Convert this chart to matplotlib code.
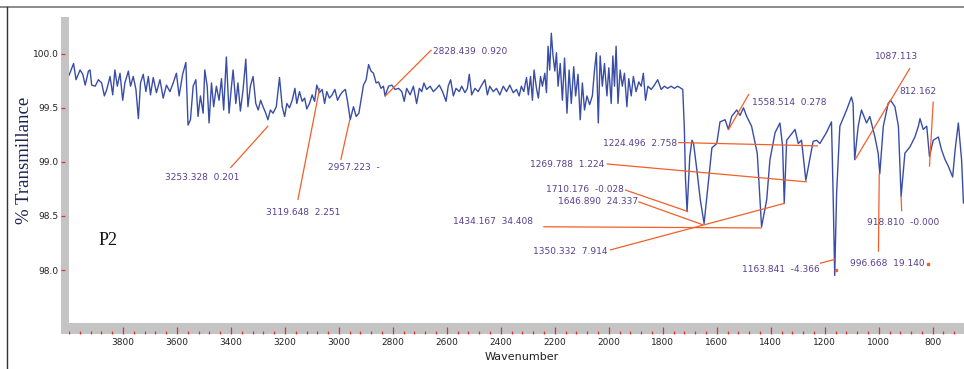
import matplotlib
matplotlib.use("Agg")
import matplotlib.pyplot as plt
from matplotlib import font_manager
from matplotlib.lines import Line2D
from matplotlib.patches import Rectangle
from matplotlib.ticker import MultipleLocator

# Espectro FTIR de la muestra P2
numero_onda = [
    4000, 3983, 3974, 3959, 3949, 3940, 3928, 3922, 3916, 3903, 3891, 3879, 3869, 3860,
    3848, 3838, 3830, 3821, 3811, 3801, 3793, 3780, 3772, 3762, 3752, 3743, 3735, 3725,
    3715, 3706, 3698, 3688, 3676, 3663, 3651, 3639, 3626, 3614, 3602, 3592, 3579, 3567,
    3559, 3550, 3540, 3530, 3522, 3513, 3503, 3497, 3488, 3481, 3472, 3464, 3454, 3444,
    3435, 3427, 3417, 3407, 3398, 3392, 3382, 3374, 3365, 3355, 3345, 3337, 3328, 3318,
    3308, 3299, 3290, 3281, 3271, 3263, 3254, 3244, 3232, 3220, 3210, 3201, 3193, 3183,
    3173, 3163, 3156, 3146, 3136, 3127, 3119, 3109, 3099, 3090, 3082, 3072, 3062, 3053,
    3045, 3035, 3025, 3015, 3005, 2995, 2986, 2976, 2968, 2958, 2952, 2946, 2936, 2926,
    2918, 2909, 2899, 2890, 2881, 2872, 2862, 2853, 2844, 2835, 2829, 2816, 2804, 2792,
    2779, 2767, 2758, 2749, 2736, 2724, 2712, 2702, 2693, 2685, 2675, 2662, 2650, 2638,
    2628, 2616, 2603, 2595, 2586, 2576, 2566, 2554, 2545, 2533, 2524, 2517, 2508, 2496,
    2484, 2471, 2459, 2450, 2441, 2428, 2416, 2404, 2391, 2379, 2367, 2354, 2342, 2332,
    2324, 2315, 2305, 2298, 2290, 2283, 2277, 2268, 2261, 2253, 2246, 2237, 2231, 2225,
    2219, 2213, 2207, 2200, 2194, 2188, 2180, 2172, 2164, 2155, 2147, 2139, 2130, 2123,
    2114, 2106, 2098, 2090, 2081, 2071, 2061, 2053, 2046, 2039, 2032, 2024, 2016, 2007,
    2000, 1991, 1985, 1979, 1973, 1966, 1958, 1950, 1942, 1933, 1926, 1917, 1909, 1899,
    1889, 1880, 1872, 1864, 1855, 1843, 1831, 1819, 1806, 1794, 1782, 1769, 1757, 1745,
    1732, 1726, 1720, 1716, 1710, 1700, 1692, 1686, 1674, 1661, 1647, 1618, 1600, 1588,
    1569, 1557, 1545, 1526, 1514, 1501, 1489, 1471, 1450, 1434, 1415, 1403, 1384, 1366,
    1356, 1350, 1341, 1310, 1298, 1286, 1270, 1243, 1230, 1218, 1194, 1175, 1169, 1163,
    1156, 1144, 1119, 1101, 1095, 1089, 1076, 1064, 1045, 1033, 1014, 1002, 996, 983,
    965, 956, 940, 927, 917, 903, 884, 866, 853, 847, 835, 822, 812, 798, 779, 767,
    754, 742, 726, 717, 705, 693, 686,
]
transmitancia = [
    99.80, 99.91, 99.76, 99.85, 99.81, 99.71, 99.84, 99.85, 99.71, 99.70, 99.76, 99.73, 99.61, 99.67,
    99.79, 99.62, 99.85, 99.70, 99.82, 99.57, 99.73, 99.84, 99.70, 99.79, 99.67, 99.40, 99.73, 99.81,
    99.65, 99.79, 99.62, 99.78, 99.64, 99.76, 99.59, 99.71, 99.65, 99.73, 99.82, 99.61, 99.81, 99.92,
    99.34, 99.39, 99.70, 99.76, 99.42, 99.61, 99.45, 99.85, 99.70, 99.36, 99.73, 99.51, 99.70, 99.57,
    99.77, 99.48, 99.97, 99.45, 99.70, 99.85, 99.54, 99.73, 99.47, 99.67, 99.95, 99.51, 99.70, 99.79,
    99.54, 99.48, 99.57, 99.51, 99.45, 99.39, 99.48, 99.45, 99.51, 99.78, 99.51, 99.42, 99.54, 99.50,
    99.57, 99.68, 99.54, 99.65, 99.56, 99.59, 99.49, 99.54, 99.62, 99.56, 99.71, 99.64, 99.67, 99.54,
    99.65, 99.59, 99.62, 99.67, 99.57, 99.62, 99.65, 99.67, 99.56, 99.39, 99.45, 99.51, 99.42, 99.45,
    99.57, 99.71, 99.76, 99.90, 99.84, 99.82, 99.73, 99.74, 99.68, 99.70, 99.61, 99.70, 99.71, 99.67,
    99.68, 99.65, 99.56, 99.68, 99.62, 99.70, 99.54, 99.68, 99.65, 99.73, 99.67, 99.70, 99.65, 99.68,
    99.71, 99.65, 99.56, 99.70, 99.76, 99.61, 99.68, 99.65, 99.70, 99.64, 99.68, 99.81, 99.62, 99.68,
    99.65, 99.71, 99.76, 99.62, 99.70, 99.65, 99.68, 99.62, 99.70, 99.65, 99.71, 99.64, 99.67, 99.61,
    99.70, 99.65, 99.78, 99.62, 99.79, 99.57, 99.85, 99.68, 99.59, 99.79, 99.70, 99.82, 99.64, 100.07,
    99.85, 100.19, 99.99, 99.84, 100.01, 99.70, 99.91, 99.57, 99.96, 99.45, 99.85, 99.54, 99.88, 99.61,
    99.81, 99.39, 99.73, 99.48, 99.61, 99.53, 99.61, 99.85, 100.01, 99.36, 99.98, 99.70, 99.91, 99.61,
    99.87, 99.54, 99.98, 99.70, 100.07, 99.54, 99.85, 99.70, 99.82, 99.51, 99.77, 99.61, 99.79, 99.65,
    99.74, 99.70, 99.82, 99.57, 99.70, 99.67, 99.71, 99.76, 99.67, 99.70, 99.68, 99.70, 99.68, 99.70,
    99.68, 99.67, 99.30, 98.85, 98.54, 99.05, 99.20, 99.17, 98.93, 98.65, 98.43, 99.13, 99.17, 99.37,
    99.39, 99.30, 99.42, 99.48, 99.43, 99.50, 99.42, 99.33, 99.08, 98.40, 98.65, 99.02, 99.27, 99.36,
    99.14, 98.62, 99.20, 99.30, 99.17, 99.20, 98.83, 99.19, 99.20, 99.17, 99.27, 99.37, 98.71, 97.95,
    98.71, 99.33, 99.48, 99.60, 99.54, 99.02, 99.33, 99.48, 99.36, 99.42, 99.23, 99.08, 98.89, 99.33,
    99.54, 99.57, 99.51, 99.33, 98.68, 99.08, 99.14, 99.23, 99.33, 99.40, 99.30, 99.33, 99.05, 99.20,
    99.23, 99.11, 99.02, 98.96, 98.86, 99.11, 99.36, 99.02, 98.62,
]

# Etiquetas de los picos marcados
etiquetas_picos = [
    "3253.328  0.201", "3119.648  2.251", "2957.223  -", "2828.439  0.920",
    "1558.514  0.278", "1087.113", "812.162", "918.810  -0.000",
    "996.668  19.140", "1163.841  -4.366", "1224.496  2.758", "1269.788  1.224",
    "1710.176  -0.028", "1646.890  24.337", "1434.167  34.408", "1350.332  7.914",
]
# posicion del texto (x, y) y linea guia (x1, y1, x2, y2), en unidades del grafico
pos_texto = [
    (3645, 98.86), (3271, 98.53), (3041, 98.95), (2652, 100.02),
    (1471, 99.55), (1014, 99.975), (925, 99.65), (1044, 98.44),
    (1106, 98.056), (1508, 98.006), (2023, 99.167), (2292, 98.972),
    (2231, 98.741), (2189, 98.632), (2578, 98.447), (2281, 98.169),
]
lineas_guia = [
    (3402, 98.944, 3262, 99.333), (3152, 98.648, 3071, 99.685),
    (2993, 99.019, 2960, 99.389), (2657, 100.037, 2830, 99.605),
    (1481, 99.627, 1557, 99.296), (884, 99.868, 1088, 99.019),
    (798, 99.558, 812, 98.956), (915, 98.542, 917, 98.678),
    (1001, 98.169, 998, 98.894), (1218, 98.062, 1162, 98.099),
    (1743, 99.179, 1225, 99.148), (2008, 98.981, 1266, 98.815),
    (1940, 98.741, 1706, 98.54), (1891, 98.632, 1650, 98.417),
    (2243, 98.40, 1433, 98.389), (1996, 98.185, 1347, 98.618),
]


def hay_fuente(nombre):
    try:
        font_manager.findfont(font_manager.FontProperties(family=nombre), fallback_to_default=False)
        return True
    except Exception:
        return False


if hay_fuente("Liberation Sans Narrow"):
    fuente_chica, tam_chico = "Liberation Sans Narrow", 8.5
else:
    fuente_chica, tam_chico = "DejaVu Sans", 6.5

AZUL = "#3a4da6"
ROJO = "#f0602a"
GRIS = "#c4c4c4"
MORADO = "#55408f"

W, H = 964, 369
fig = plt.figure(figsize=(W / 100, H / 100), dpi=100)
fig.patch.set_facecolor("white")

# area de trazado principal
ax = fig.add_axes([69 / W, 46 / H, 895 / W, 306 / H])
ax.plot(numero_onda, transmitancia, color=AZUL, lw=1.0)
ax.set_xlim(4000, 684)
ax.set_ylim(97.51, 100.34)
ax.axis("off")

# anotaciones de picos
for texto, (tx, ty), (x1, y1, x2, y2) in zip(etiquetas_picos, pos_texto, lineas_guia):
    ax.plot([x1, x2], [y1, y2], color=ROJO, lw=0.9, solid_capstyle="butt")
    ax.text(tx, ty, texto, color=MORADO, fontsize=tam_chico, family=fuente_chica,
            ha="left", va="center")
ax.plot([817, 1159], [98.056, 98.0], ls="none", marker="s", ms=1.5, color=ROJO)

ax.text(0.033, 0.268, "P2", transform=ax.transAxes, family="Liberation Serif",
        fontsize=13, color="#111111", ha="left", va="center")

# barra gris inferior con escala de numero de onda
axb = fig.add_axes([69 / W, 35 / H, 895 / W, 11 / H], sharex=ax)
axb.set_facecolor(GRIS)
for s in axb.spines.values():
    s.set_visible(False)
axb.set_yticks([])
axb.xaxis.set_minor_locator(MultipleLocator(40))
axb.set_xticks(range(800, 3801, 200))
axb.set_xticklabels([str(v) for v in range(800, 3801, 200)], family=fuente_chica)
axb.tick_params(axis="x", which="major", direction="in", length=5, width=0.9, color="#e8302a",
                pad=3, labelsize=tam_chico, labelcolor="#222222")
axb.tick_params(axis="x", which="minor", direction="in", length=2.5, width=0.9, color="#e8302a")
axb.set_xlim(4000, 684)

# barra gris izquierda con escala de transmitancia
axl = fig.add_axes([61 / W, 46 / H, 8 / W, 306 / H], sharey=ax)
axl.set_facecolor(GRIS)
for s in axl.spines.values():
    s.set_visible(False)
axl.set_xticks([])
axl.set_yticks([98.0, 98.5, 99.0, 99.5, 100.0])
axl.set_yticklabels(["98.0", "98.5", "99.0", "99.5", "100.0"], family=fuente_chica)
axl.tick_params(axis="y", direction="in", length=3, width=0.9, color="#e8302a", pad=1.5,
                labelsize=tam_chico, labelcolor="#222222")
axl.set_ylim(97.51, 100.34)
fig.add_artist(Rectangle((61 / W, 35 / H), 8 / W, 11 / H, transform=fig.transFigure,
                         facecolor=GRIS, edgecolor="none"))

fig.text(0.541, 1 - 356.5 / H, "Wavenumber", family=fuente_chica, fontsize=8,
         color="#222222", ha="center", va="center")
fig.text(25 / W, 1 - 160 / H, "% Transmillance", family="Liberation Serif", fontsize=13.5,
         color="#1c2452", rotation=90, ha="center", va="center")

# marco exterior de la figura
fig.add_artist(Line2D([0, 1], [1 - 7 / H, 1 - 7 / H], transform=fig.transFigure,
                      color="#777777", lw=1.2))
fig.add_artist(Line2D([7 / W, 7 / W], [0, 1 - 7 / H], transform=fig.transFigure,
                      color="#333333", lw=1.0))

fig.savefig("out.png", dpi=100)
